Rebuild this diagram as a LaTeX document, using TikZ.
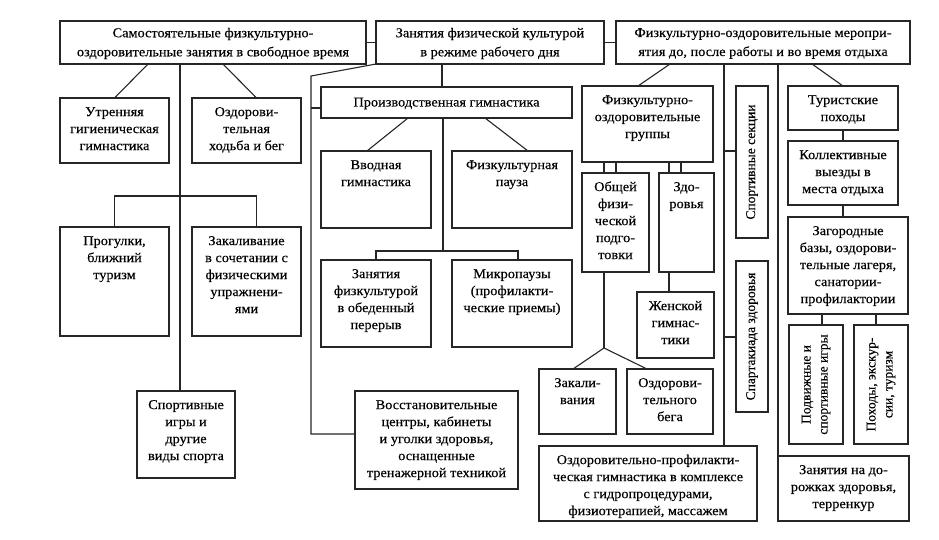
\documentclass[tikz,border=0pt]{standalone}
\usepackage{fontspec}
\setmainfont[FakeStretch=1.06,FakeBold=0.3]{Liberation Serif}
\newfontfamily\rotfont[FakeBold=0.3]{Liberation Serif}
\tikzset{
 box/.style={draw=black!85, line width=1.1pt, inner sep=0pt, outer sep=0pt},
 txt/.style={align=center, inner sep=2pt, font=\fontsize{13.5}{17}\selectfont},
 rtxt/.style={align=center, inner sep=2pt, font=\rotfont\fontsize{13.5}{17}\selectfont},
 ttxt/.style={align=center, inner sep=2pt, font=\fontsize{13.5}{19}\selectfont},
 conn/.style={draw=black!85, line width=1.1pt},
}
\newcommand\bx[6]{%
 \node[box, minimum width={(#4-#2)*1pt}, minimum height={(#5-#3)*1pt}] (#1) at ({(#2+#4)/2},{(#3+#5)/2}) {};
 \node[txt, anchor=north, yshift=-4pt] (#1t) at (#1.north) {\strut #6};}
\newcommand\bxc[6]{%
 \node[box, minimum width={(#4-#2)*1pt}, minimum height={(#5-#3)*1pt}] (#1) at ({(#2+#4)/2},{(#3+#5)/2}) {};
 \node[ttxt, yshift=-1pt] (#1t) at (#1.center) {#6};}
\newcommand\bxr[6]{%
 \node[box, minimum width={(#4-#2)*1pt}, minimum height={(#5-#3)*1pt}] (#1) at ({(#2+#4)/2},{(#3+#5)/2}) {};
 \node[rtxt, rotate=90] (#1t) at (#1.center) {#6};}
\begin{document}
\begin{tikzpicture}[x=1pt,y=-1pt]
\fill[white] (0,0) rectangle (939,539);
\useasboundingbox (0,0) rectangle (939,539);
% top row
\bxc{A}{60}{21}{366}{64}{Самостоятельные физкультурно-\\оздоровительные занятия в свободное время}
\bxc{B}{376}{21}{604}{64}{Занятия физической культурой\\в режиме рабочего дня}
\bxc{C}{616}{21}{910}{64}{Физкультурно-оздоровительные меропри-\\ятия до, после работы и во время отдыха}
% left branch
\bx{Utr}{60}{98}{169}{163}{Утренняя\\гигиеническая\\гимнастика}
\bx{Ozd}{192}{98}{301}{163}{Оздорови-\\тельная\\ходьба и бег}
\bx{Prog}{60}{227}{169}{336}{Прогулки,\\ближний\\туризм}
\bx{Zak}{192}{227}{301}{336}{Закаливание\\в сочетании с\\физическими\\упражнени-\\ями}
\bx{Sport}{137}{391}{235}{478}{Спортивные\\игры и\\другие\\виды спорта}
% middle branch
\bxc{Prod}{321}{87}{572}{118}{Производственная гимнастика}
\bx{Vvod}{321}{151}{431}{228}{Вводная\\гимнастика}
\bx{Fizp}{452}{151}{572}{228}{Физкультурная\\пауза}
\bx{Zan}{321}{260}{431}{347}{Занятия\\физкультурой\\в обеденный\\перерыв}
\bx{Mik}{452}{260}{572}{347}{Микропаузы\\(профилакти-\\ческие приемы)}
\bx{Vos}{355}{391}{518}{489}{Восстановительные\\центры, кабинеты\\и уголки здоровья,\\оснащенные\\тренажерной техникой}
% right branch
\bx{FOG}{582}{86}{713}{162}{Физкультурно-\\оздоровительные\\группы}
\bx{Obsh}{582}{173}{649}{272}{Общей\\физи-\\ческой\\подго-\\товки}
\bx{Zdor}{659}{173}{714}{272}{Здо-\\ровья}
\bx{Zhen}{637}{292}{714}{358}{Женской\\гимнас-\\тики}
\bx{Zakv}{539}{369}{616}{434}{Закали-\\вания}
\bx{Ozb}{627}{369}{713}{434}{Оздорови-\\тельного\\бега}
\bx{OPG}{539}{446}{757}{521}{Оздоровительно-профилакти-\\ческая гимнастика в комплексе\\с гидропроцедурами,\\физиотерапией, массажем}
\bxr{SS}{736}{86}{768}{238}{Спортивные секции}
\bxr{SZ}{736}{261}{768}{412}{Спартакиада здоровья}
\bx{Tur}{788}{86}{898}{130}{Туристские\\походы}
\bx{Koll}{788}{141}{898}{205}{Коллективные\\выезды в\\места отдыха}
\bx{Zag}{788}{217}{908}{314}{Загородные\\базы, оздорови-\\тельные лагеря,\\санатории-\\профилактории}
\bxr{Podv}{789}{325}{843}{444}{Подвижные и\\спортивные игры}
\bxr{Poh}{854}{325}{908}{444}{Походы, экскур-\\сии, туризм}
\bx{ZD}{778}{456}{909}{521}{Занятия на до-\\рожках здоровья,\\терренкур}
% connectors: top row
\draw[conn] (A.east) -- (B.west);
\draw[conn] (B.east) -- (C.west);
% A children
\draw[conn] ([xshift=88pt]A.south west) -- (Utr.north);
\draw[conn] ([xshift=120pt]A.south west) -- ([xshift=43pt]Sport.north west);
\draw[conn] ([xshift=163pt]A.south west) -- ([xshift=10pt]Ozd.north);
\draw[conn] (Prog.north) -- ([yshift=31pt]Prog.north) -| ([xshift=10pt]Zak.north);
% B children
\coordinate (bj) at (311,76);
\coordinate (pw) at (311,108);
\coordinate (bv) at (442,64);
\draw[conn] (B.south west) -- (bj) |- ([yshift=6pt]Vos.west);
\draw[conn] (Prod.west |- pw) -- (pw);
\draw[conn] (bv) -- (bv |- Prod.north);
% Prod children
\coordinate (pv) at (443,251);
\draw[conn] ([xshift=87pt]Prod.south west) -- ([xshift=-9pt]Vvod.north);
\draw[conn] ([xshift=164pt]Prod.south west) -- ([xshift=16pt]Fizp.north);
\draw[conn] (pv |- Prod.south) -- (pv);
\draw[conn] (Zan.north) |- (pv) -| ([xshift=6pt]Mik.north);
% C children
\coordinate (cv1) at (724,64);
\coordinate (cv2) at (778,64);
\coordinate (s1) at (724,151);
\coordinate (s2) at (724,337);
\draw[conn] ([xshift=54pt]C.south west) -- ([xshift=-9.5pt]FOG.north);
\draw[conn] (cv1) -- (cv1 |- OPG.north);
\draw[conn] (s1) -- (SS.west |- s1);
\draw[conn] (s2) -- (SZ.west |- s2);
\draw[conn] (cv2) -- (ZD.north west);
\draw[conn] ([xshift=196pt]C.south west) -- (Tur.north);
% FOG children
\draw[conn] ([xshift=22pt]FOG.south west) -- ([xshift=22pt]Obsh.north west);
\draw[conn] ([xshift=34pt]FOG.south west) -- ([xshift=34pt]Obsh.north west);
\draw[conn] ([xshift=87pt]FOG.south west) -- ([xshift=10pt]Zdor.north west);
\draw[conn] ([xshift=99pt]FOG.south west) -- ([xshift=22pt]Zdor.north west);
\coordinate (fk) at (604,348);
\draw[conn] ([xshift=22pt]Obsh.south west) -- (fk);
\draw[conn] ([xshift=-4.5pt]Zakv.north) -- (fk) -- ([xshift=-23pt]Ozb.north);
\draw[conn] ([xshift=10pt]Zdor.south west) -- ([xshift=32pt]Zhen.north west);
% tourist chain
\draw[conn] (Tur.south) -- (Koll.north);
\draw[conn] (Koll.south) -- (Koll.south |- Zag.north);
\draw[conn] ([xshift=6pt]Podv.north) -- ([xshift=6pt,yshift=11pt]Podv.north);
\draw[conn] ([xshift=-5pt]Poh.north) -- ([xshift=-5pt,yshift=11pt]Poh.north);
\end{tikzpicture}
\end{document}
